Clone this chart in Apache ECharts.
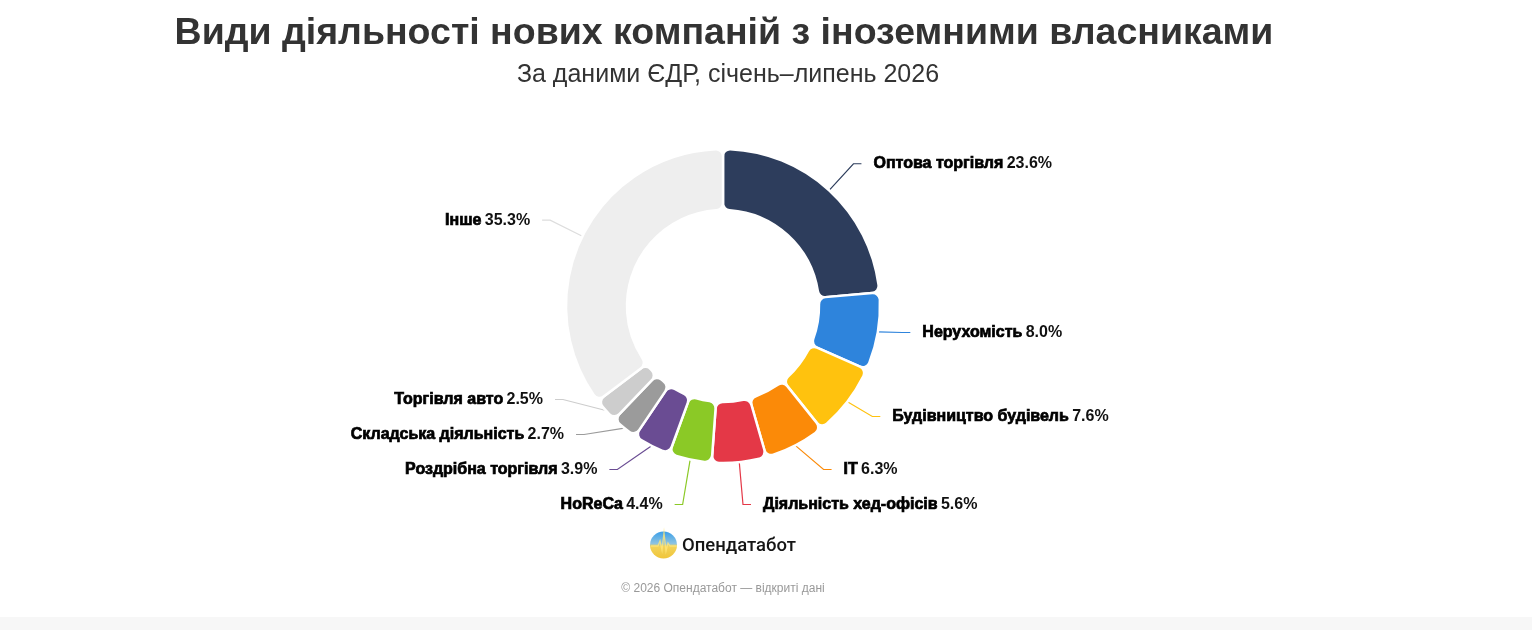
<!DOCTYPE html>
<html>
<head>
<meta charset="utf-8">
<script src="https://cdn.jsdelivr.net/npm/echarts@6/dist/echarts.min.js"></script>
<style>
html,body{margin:0;padding:0;background:#fff;}
#c{width:1532px;height:630px;}
</style>
</head>
<body>
<div id="c"></div>
<script>
const categories = ['Оптова торгівля','Нерухомість','Будівництво будівель','IT','Діяльність хед-офісів','HoReCa','Роздрібна торгівля','Складська діяльність','Торгівля авто','Інше'];
const values = [23.6, 8.0, 7.6, 6.3, 5.6, 4.4, 3.9, 2.7, 2.5, 35.3];
const colors = ['#2D3D5C','#2E84DC','#FFC20E','#FB8A08','#E43847','#8BC926','#6A4C93','#9B9B9B','#CDCDCD','#EEEEEE'];
const titleText = 'Види діяльності нових компаній з іноземними власниками';
const subtitleText = 'За даними ЄДР, січень–липень 2026';
const footerText = '© 2026 Опендатабот — відкриті дані';
const brandText = 'Опендатабот';

const chart = echarts.init(document.getElementById('c'), null, {renderer:'canvas'});
const data = categories.map((n,i)=>({name:n, value:values[i], itemStyle:{color:colors[i]}, labelLine:{lineStyle:{color: i===9 ? '#dddddd' : colors[i]}}}));
chart.setOption({
  animation:false,
  backgroundColor:'#fff',
  title:[
    {text:titleText, left:719, textAlign:'center', top:10, textStyle:{fontFamily:'Liberation Sans, Arial', fontSize:37.5, fontWeight:'bold', color:'#333'}},
    {text:subtitleText, left:723, textAlign:'center', top:58, textStyle:{fontFamily:'Liberation Sans, Arial', fontSize:25, fontWeight:'normal', color:'#333'}}
  ],
  series:[{
    type:'pie',
    left:0, top:0, width:1532, height:522,
    center:[723, 306],
    radius:[96, 157],
    startAngle:90,
    clockwise:true,
    avoidLabelOverlap:true,
    itemStyle:{borderColor:'#fff', borderWidth:2.5, borderRadius:7},
    label:{
      show:true,
      distanceToLabelLine:12,
      lineHeight:33,
      formatter: p => '{n|' + p.name + '} {v|' + p.value.toFixed(1) + '%}',
      rich:{
        n:{fontFamily:'Liberation Sans, Arial', fontSize:16, lineHeight:33, fontWeight:'bold', color:'#000', textBorderColor:'#000', textBorderWidth:0.7},
        v:{fontFamily:'Liberation Sans, Arial', fontSize:16, lineHeight:33, fontWeight:'bold', color:'#111'}
      }
    },
    labelLine:{show:true, length:36, length2:8, lineStyle:{width:1.2}},
    data:data
  }],
  graphic:[
    {type:'circle', shape:{cx:663.5, cy:545, r:13.5}, style:{fill:{type:'linear',x:0,y:0,x2:0,y2:1,colorStops:[{offset:0,color:'#3A9FEA'},{offset:0.45,color:'#8EC3E0'},{offset:0.55,color:'#F2D35A'},{offset:1,color:'#F0C53A'}]}}},
    {type:'polyline', shape:{points:[[651,546],[658,546],[660,541],[662,550],[664,533],[666,551],[668,543],[670,546],[677,546]]}, style:{stroke:'rgba(255,230,120,0.8)', lineWidth:1.3, fill:null}},
    {type:'text', x:682, y:546, style:{text:brandText, font:'500 18.5px Roboto, "Noto Sans", sans-serif', fill:'#151515', textVerticalAlign:'middle'}},
    {type:'text', x:723, y:589, style:{text:footerText, font:'12px "Liberation Sans", Arial, sans-serif', fill:'#999', textAlign:'center', textVerticalAlign:'middle'}},
    {type:'rect', shape:{x:0, y:617, width:1532, height:13}, style:{fill:'#f7f7f7'}}
  ]
});
</script>
</body>
</html>
